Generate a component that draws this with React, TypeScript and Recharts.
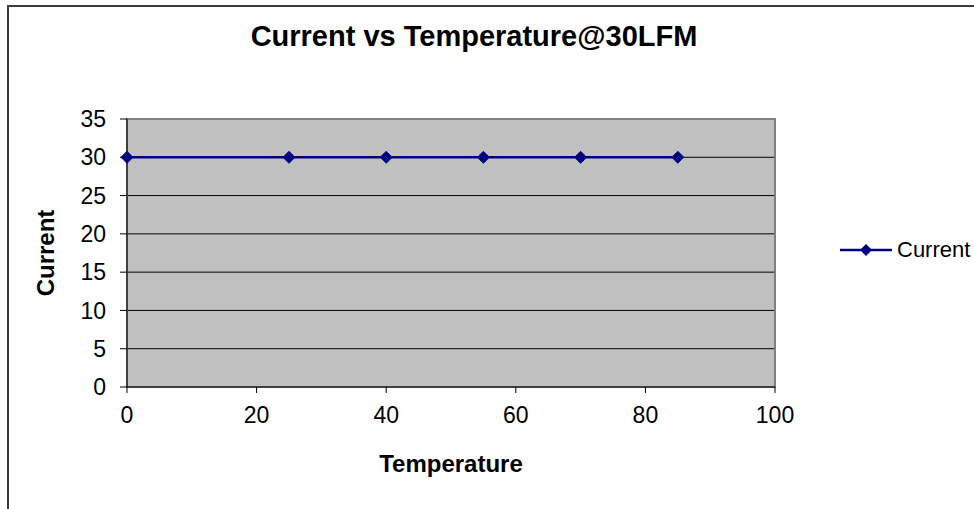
import React from 'react';
import { LineChart, Line, XAxis, YAxis, CartesianGrid, ReferenceArea } from 'recharts';

const temperatures = [0, 25, 40, 55, 70, 85];
const currentValues = [30, 30, 30, 30, 30, 30];
const xTicks = [0, 20, 40, 60, 80, 100];
const yTicks = [0, 5, 10, 15, 20, 25, 30, 35];

const chartTitle = 'Current vs Temperature@30LFM';
const seriesName = 'Current';
const xTitle = 'Temperature';
const yTitle = 'Current';

const data = temperatures.map((t, i) => ({ temp: t, current: currentValues[i] }));

const FONT = '"Liberation Sans", Arial, sans-serif';
const NAVY = '#000080';

const Diamond = (props: any) => {
  const { cx, cy } = props;
  if (cx == null || cy == null) return null;
  const s = 6;
  return (
    <path
      d={`M${cx},${cy - s}L${cx + s},${cy}L${cx},${cy + s}L${cx - s},${cy}Z`}
      fill={NAVY}
      stroke={NAVY}
    />
  );
};

const YLabel = (props: any) => {
  const { viewBox } = props;
  const x = 45;
  const y = viewBox.y + viewBox.height / 2;
  return (
    <text
      x={x}
      y={y}
      transform={`rotate(-90 ${x} ${y})`}
      textAnchor="middle"
      dominantBaseline="central"
      fontFamily={FONT}
      fontWeight="bold"
      fontSize={24}
      fill="#000"
    >
      {yTitle}
    </text>
  );
};

export default function App() {
  return (
    <div style={{ position: 'fixed', left: 0, top: 0, width: 974, height: 509, overflow: 'hidden', background: '#fff', fontFamily: FONT }}>
      <div
        style={{
          position: 'absolute',
          left: 7,
          top: 5,
          width: 1200,
          height: 800,
          borderLeft: '2px solid #3c3c3c',
          borderTop: '2px solid #3c3c3c',
        }}
      />
      <div
        style={{
          position: 'absolute',
          left: 0,
          width: 948,
          top: 20,
          textAlign: 'center',
          fontSize: 29,
          fontWeight: 'bold',
          color: '#000',
        }}
      >
        {chartTitle}
      </div>
      <div style={{ position: 'absolute', left: 0, top: 0 }}>
        <LineChart width={974} height={509} data={data} margin={{ top: 119, right: 199, bottom: 32, left: 0 }}>
          <CartesianGrid
            vertical={false}
            horizontal
            fill="#C0C0C0"
            fillOpacity={1}
            stroke="#000"
            strokeWidth={1}
          />
          <ReferenceArea x1={0} x2={100} y1={0} y2={35} fill="none" stroke="#808080" strokeWidth={2} />
          <XAxis
            dataKey="temp"
            type="number"
            domain={[0, 100]}
            ticks={xTicks}
            height={90}
            tickSize={6}
            tickMargin={14}
            stroke="#000"
            tick={{ fill: '#000', fontSize: 23, fontFamily: FONT }}
            label={{ value: xTitle, position: 'insideBottom', offset: 5, fill: '#000', fontSize: 24, fontWeight: 'bold', fontFamily: FONT }}
          />
          <YAxis
            type="number"
            domain={[0, 35]}
            ticks={yTicks}
            width={127}
            tickSize={7}
            tickMargin={14}
            stroke="#000"
            tick={{ fill: '#000', fontSize: 23, fontFamily: FONT }}
            label={<YLabel />}
          />
          <Line
            type="linear"
            dataKey="current"
            name={seriesName}
            stroke={NAVY}
            strokeWidth={2.5}
            dot={<Diamond />}
            activeDot={false}
            isAnimationActive={false}
          />
        </LineChart>
      </div>
      <div style={{ position: 'absolute', left: 838, top: 236, display: 'flex', alignItems: 'center' }}>
        <svg width={56} height={28}>
          <line x1={2} y1={14} x2={54} y2={14} stroke={NAVY} strokeWidth={2.5} />
          <path d="M28,8L34,14L28,20L22,14Z" fill={NAVY} />
        </svg>
        <span style={{ fontSize: 22, color: '#000', marginLeft: 3 }}>{seriesName}</span>
      </div>
    </div>
  );
}
